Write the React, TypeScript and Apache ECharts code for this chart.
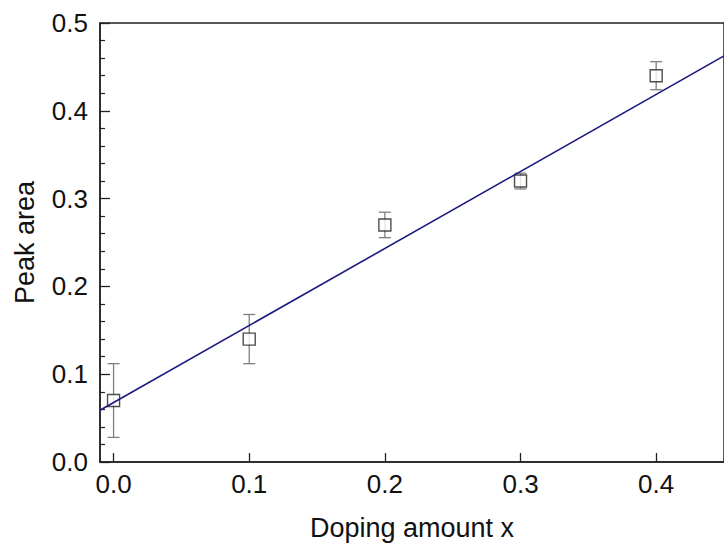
import React, { useEffect, useRef } from "react";
import * as echarts from "echarts";

const dopingX = [0, 0.1, 0.2, 0.3, 0.4];
const peakArea = [0.07, 0.14, 0.27, 0.32, 0.44];
const peakErr = [0.042, 0.028, 0.0145, 0.009, 0.016];
const fitX = [-0.01, 0.45];
const fitY = [0.059, 0.4625];
const xTicks = [0, 0.1, 0.2, 0.3, 0.4];

const FONT = "'Liberation Sans', Arial, sans-serif";

export default function App() {
  const ref = useRef<HTMLDivElement>(null);
  useEffect(() => {
    if (!ref.current) return;
    const chart = echarts.init(ref.current, null, { renderer: "svg" });
    const pts = dopingX.map((x, i) => [x, peakArea[i], peakErr[i]]);
    const fit = fitX.map((x, i) => [x, fitY[i]]);
    chart.setOption({
      animation: false,
      backgroundColor: "#fff",
      grid: {
        left: 100,
        top: 23,
        bottom: 85,
        right: -11,
        show: true,
        borderColor: "#222",
        borderWidth: 1.5,
        backgroundColor: "transparent",
      },
      xAxis: {
        type: "value",
        min: -0.01,
        max: 0.45,
        name: "Doping amount x",
        nameLocation: "middle",
        nameGap: 52,
        nameTextStyle: { fontFamily: FONT, fontSize: 27, color: "#111" },
        axisLine: { show: true, onZero: false, lineStyle: { color: "#222", width: 1.5 } },
        axisTick: {
          show: true,
          inside: true,
          length: 9,
          customValues: xTicks,
          lineStyle: { color: "#222", width: 1.3 },
        },
        axisLabel: {
          customValues: xTicks,
          margin: 9,
          fontFamily: FONT,
          fontSize: 26,
          color: "#111",
          formatter: (v: number) => v.toFixed(1),
        },
        splitLine: { show: false },
      },
      yAxis: {
        type: "value",
        min: 0,
        max: 0.5,
        interval: 0.1,
        name: "Peak area",
        nameLocation: "middle",
        nameGap: 62,
        nameTextStyle: { fontFamily: FONT, fontSize: 27, color: "#111" },
        axisLine: { show: true, onZero: false, lineStyle: { color: "#222", width: 1.5 } },
        axisTick: {
          show: true,
          inside: true,
          length: 10,
          lineStyle: { color: "#222", width: 1.3 },
        },
        minorTick: {
          show: true,
          splitNumber: 5,
          length: 5,
          lineStyle: { color: "#222", width: 1.2 },
        },
        axisLabel: {
          margin: 12,
          fontFamily: FONT,
          fontSize: 26,
          color: "#111",
          formatter: (v: number) => v.toFixed(1),
        },
        splitLine: { show: false },
      },
      series: [
        {
          type: "custom",
          data: pts,
          z: 2,
          renderItem: (params: any, api: any) => {
            const x = api.value(0);
            const y = api.value(1);
            const e = api.value(2);
            const top = api.coord([x, y + e]);
            const bot = api.coord([x, y - e]);
            const hw = 6;
            const style = { stroke: "#808080", lineWidth: 1.3 };
            return {
              type: "group",
              children: [
                { type: "line", shape: { x1: top[0], y1: top[1], x2: bot[0], y2: bot[1] }, style },
                { type: "line", shape: { x1: top[0] - hw, y1: top[1], x2: top[0] + hw, y2: top[1] }, style },
                { type: "line", shape: { x1: bot[0] - hw, y1: bot[1], x2: bot[0] + hw, y2: bot[1] }, style },
              ],
            };
          },
        },
        {
          type: "scatter",
          data: pts.map((p) => [p[0], p[1]]),
          symbol: "rect",
          symbolSize: 12,
          z: 3,
          itemStyle: { color: "#fff", borderColor: "#222", borderWidth: 1.4 },
        },
        {
          type: "line",
          data: fit,
          showSymbol: false,
          symbol: "none",
          z: 4,
          clip: true,
          lineStyle: { color: "#1a1a80", width: 1.6 },
        },
      ],
    });
    return () => chart.dispose();
  }, []);
  return (
    <div
      ref={ref}
      style={{ position: "fixed", left: 0, top: 0, width: 724, height: 547 }}
    />
  );
}
